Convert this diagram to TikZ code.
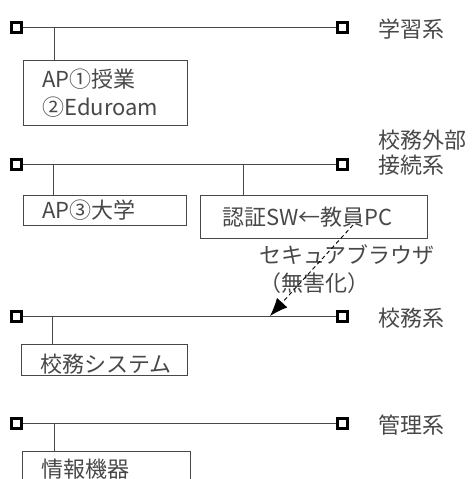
\documentclass[tikz,border=0pt]{standalone}
\usepackage{fontspec}
\setmainfont{Noto Sans CJK JP}
\usetikzlibrary{arrows.meta, positioning}
\definecolor{inkgray}{RGB}{72,72,72}

\begin{document}
\begin{tikzpicture}[x=1pt, y=-1pt, >=latex,
  every node/.style={font=\fontsize{22}{28}\selectfont, text=inkgray},
  term/.style={draw=black, line width=3pt, minimum size=10pt, inner sep=0pt},
  bus/.style={draw=inkgray, line width=0.9pt},
  unit/.style={draw=inkgray, line width=0.9pt, anchor=north west, align=left, inner xsep=19pt, inner ysep=0pt},
  sysname/.style={anchor=west, inner sep=0pt, align=left, font=\fontsize{22}{25}\selectfont}]

\useasboundingbox (0,0) rectangle (476,479);
\clip (0,0) rectangle (476,479);

% 学習系
\node[term] (a0) at (16,27) {};
\node[term] (b0) at (342.5,27) {};
\draw[bus] (a0) -- (b0);
\node[sysname, right=29pt of b0, yshift=-2pt] (n0) {学習系};
\coordinate (t0) at (54,27);
\node[unit, minimum width=164pt, minimum height=65pt, text width=126pt] (u0) at (23,60) {AP①授業\\②Eduroam};
\draw[bus] (t0) -- (t0 |- u0.north);

% 校務外部接続系
\node[term] (a1) at (16,164) {};
\node[term] (b1) at (342.5,164) {};
\draw[bus] (a1) -- (b1);
\node[sysname, right=29pt of b1, yshift=11pt] (n1) {校務外部\\接続系};
\coordinate (t1) at (53,164);
\coordinate (t2) at (243,164);
\node[unit, minimum width=163pt, minimum height=30pt, text width=125pt] (u1) at (23,195) {AP③大学};
\node[unit, minimum width=227pt, minimum height=43pt, text width=183pt, inner xsep=22pt] (u2) at (200,195) {認証SW←教員PC};
\draw[bus] (t1) -- (t1 |- u1.north);
\draw[bus] (t2) -- (t2 |- u2.north);

% 校務系
\node[term] (a2) at (16,316) {};
\node[term] (b2) at (342.5,316) {};
\draw[bus] (a2) -- (b2);
\node[sysname, right=29pt of b2, yshift=-2pt] (n2) {校務系};
\coordinate (t3) at (52,316);
\node[unit, minimum width=166pt, minimum height=31pt, text width=128pt] (u3) at (21,344) {\raisebox{-4pt}[\height][\depth]{校務システム}};
\draw[bus] (t3) -- (t3 |- u3.north);

% セキュアブラウザ
\coordinate (pc) at (353,225);
\coordinate (hit) at (270,316);
\node[inner sep=0pt] (sb) at (347,255) {セキュアブラウザ};
\node[inner sep=0pt] (mh) at (314,283) {（無害化）};
\draw[black, line width=0.9pt, dash pattern=on 4pt off 3pt, -{Latex[length=18pt, width=14pt]}] (pc) -- (hit);

% 管理系
\node[term] (a3) at (16,423) {};
\node[term] (b3) at (342.5,423) {};
\draw[bus] (a3) -- (b3);
\node[sysname, right=29pt of b3, yshift=-2pt] (n3) {管理系};
\coordinate (t4) at (54,423);
\node[unit, minimum width=168pt, minimum height=36pt, text width=130pt] (u4) at (22,451) {情報機器};
\draw[bus] (t4) -- (t4 |- u4.north);

\end{tikzpicture}
\end{document}
